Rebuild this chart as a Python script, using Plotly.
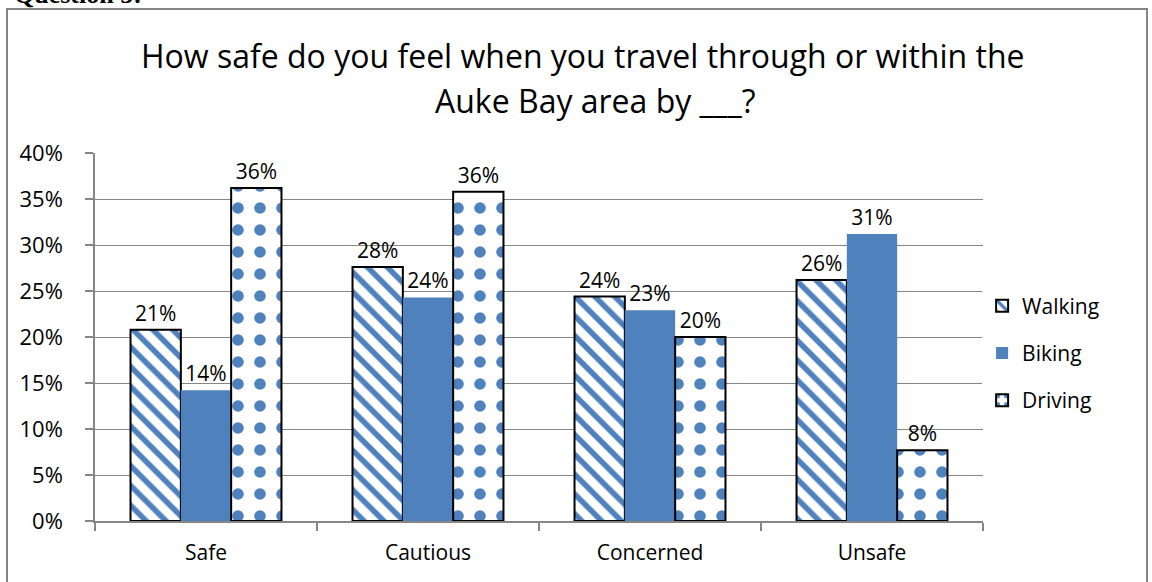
import plotly.graph_objects as go

categories = ["Safe", "Cautious", "Concerned", "Unsafe"]
walking = [20.8, 27.6, 24.4, 26.2]
biking = [14.2, 24.3, 22.9, 31.2]
driving = [36.2, 35.8, 20.0, 7.7]

BLUE = "#4f81bd"
GRAY = "#868686"
FONT = "Open Sans, sans-serif"

fig = go.Figure()

fig.add_trace(go.Bar(
    x=categories, y=walking, name="Walking", legendgroup="w",
    marker=dict(color="white", line=dict(color="black", width=2),
                pattern=dict(shape="\\", fgcolor=BLUE, bgcolor="white", fgopacity=1,
                             size=14, solidity=0.4)),
    texttemplate="%{y:.0f}%", textposition="outside",
))
fig.add_trace(go.Bar(
    x=categories, y=biking, name="Biking", legendgroup="b",
    marker=dict(color=BLUE, line=dict(color=BLUE, width=0)),
    texttemplate="%{y:.0f}%", textposition="outside",
))
fig.add_trace(go.Bar(
    x=categories, y=driving, name="Driving", legendgroup="d",
    marker=dict(color="white", line=dict(color="black", width=2),
                pattern=dict(shape=".", fgcolor=BLUE, bgcolor="white", fgopacity=1,
                             size=22, solidity=0.22)),
    texttemplate="%{y:.0f}%", textposition="outside",
))

fig.update_traces(textfont=dict(size=21, color="black", family=FONT), cliponaxis=False)

fig.update_layout(
    width=1152, height=582,
    margin=dict(l=95, r=169, t=153, b=61),
    paper_bgcolor="white", plot_bgcolor="white",
    font=dict(family=FONT, size=21, color="black"),
    barmode="group", bargap=0.32, bargroupgap=0,
    xaxis=dict(showline=True, linecolor=GRAY, linewidth=1.5, ticks="outside",
               tickson="boundaries", ticklen=8, tickcolor=GRAY, tickwidth=1.5,
               ticklabelstandoff=12, tickfont=dict(size=21), automargin=False),
    yaxis=dict(range=[0, 40], dtick=5, ticksuffix="%", showgrid=True, gridcolor=GRAY,
               gridwidth=1.2, showline=True, linecolor=GRAY, linewidth=1.5,
               ticks="outside", ticklen=8, tickcolor=GRAY, tickwidth=1.5, zeroline=False,
               ticklabelstandoff=18, tickfont=dict(size=22), automargin=False),
    legend=dict(x=0.999, y=0.4565, xanchor="left", yanchor="middle",
                font=dict(size=21), tracegroupgap=17, itemwidth=30),
    showlegend=True,
    shapes=[dict(type="rect", xref="paper", yref="paper",
                 x0=-0.0991, x1=1.1847, y0=-0.19, y1=1.391,
                 line=dict(color=GRAY, width=2), layer="below")],
    annotations=[
        dict(text="How safe do you feel when you travel through or within the",
             xref="paper", yref="paper", x=0.5495, y=1.2663, xanchor="center", yanchor="middle",
             showarrow=False, font=dict(size=32, family=FONT)),
        dict(text="Auke Bay area by ___?",
             xref="paper", yref="paper", x=0.563, y=1.144, xanchor="center", yanchor="middle",
             showarrow=False, font=dict(size=32, family=FONT)),
        dict(text="<b>Question 5:</b>", xref="paper", yref="paper",
             x=-0.093, y=1.385, xanchor="left", yanchor="bottom",
             showarrow=False, font=dict(family="Liberation Serif", size=26)),
    ],
)

fig.write_html("out.html", config={"displayModeBar": False},
               post_script="document.body.style.margin='0px';")
